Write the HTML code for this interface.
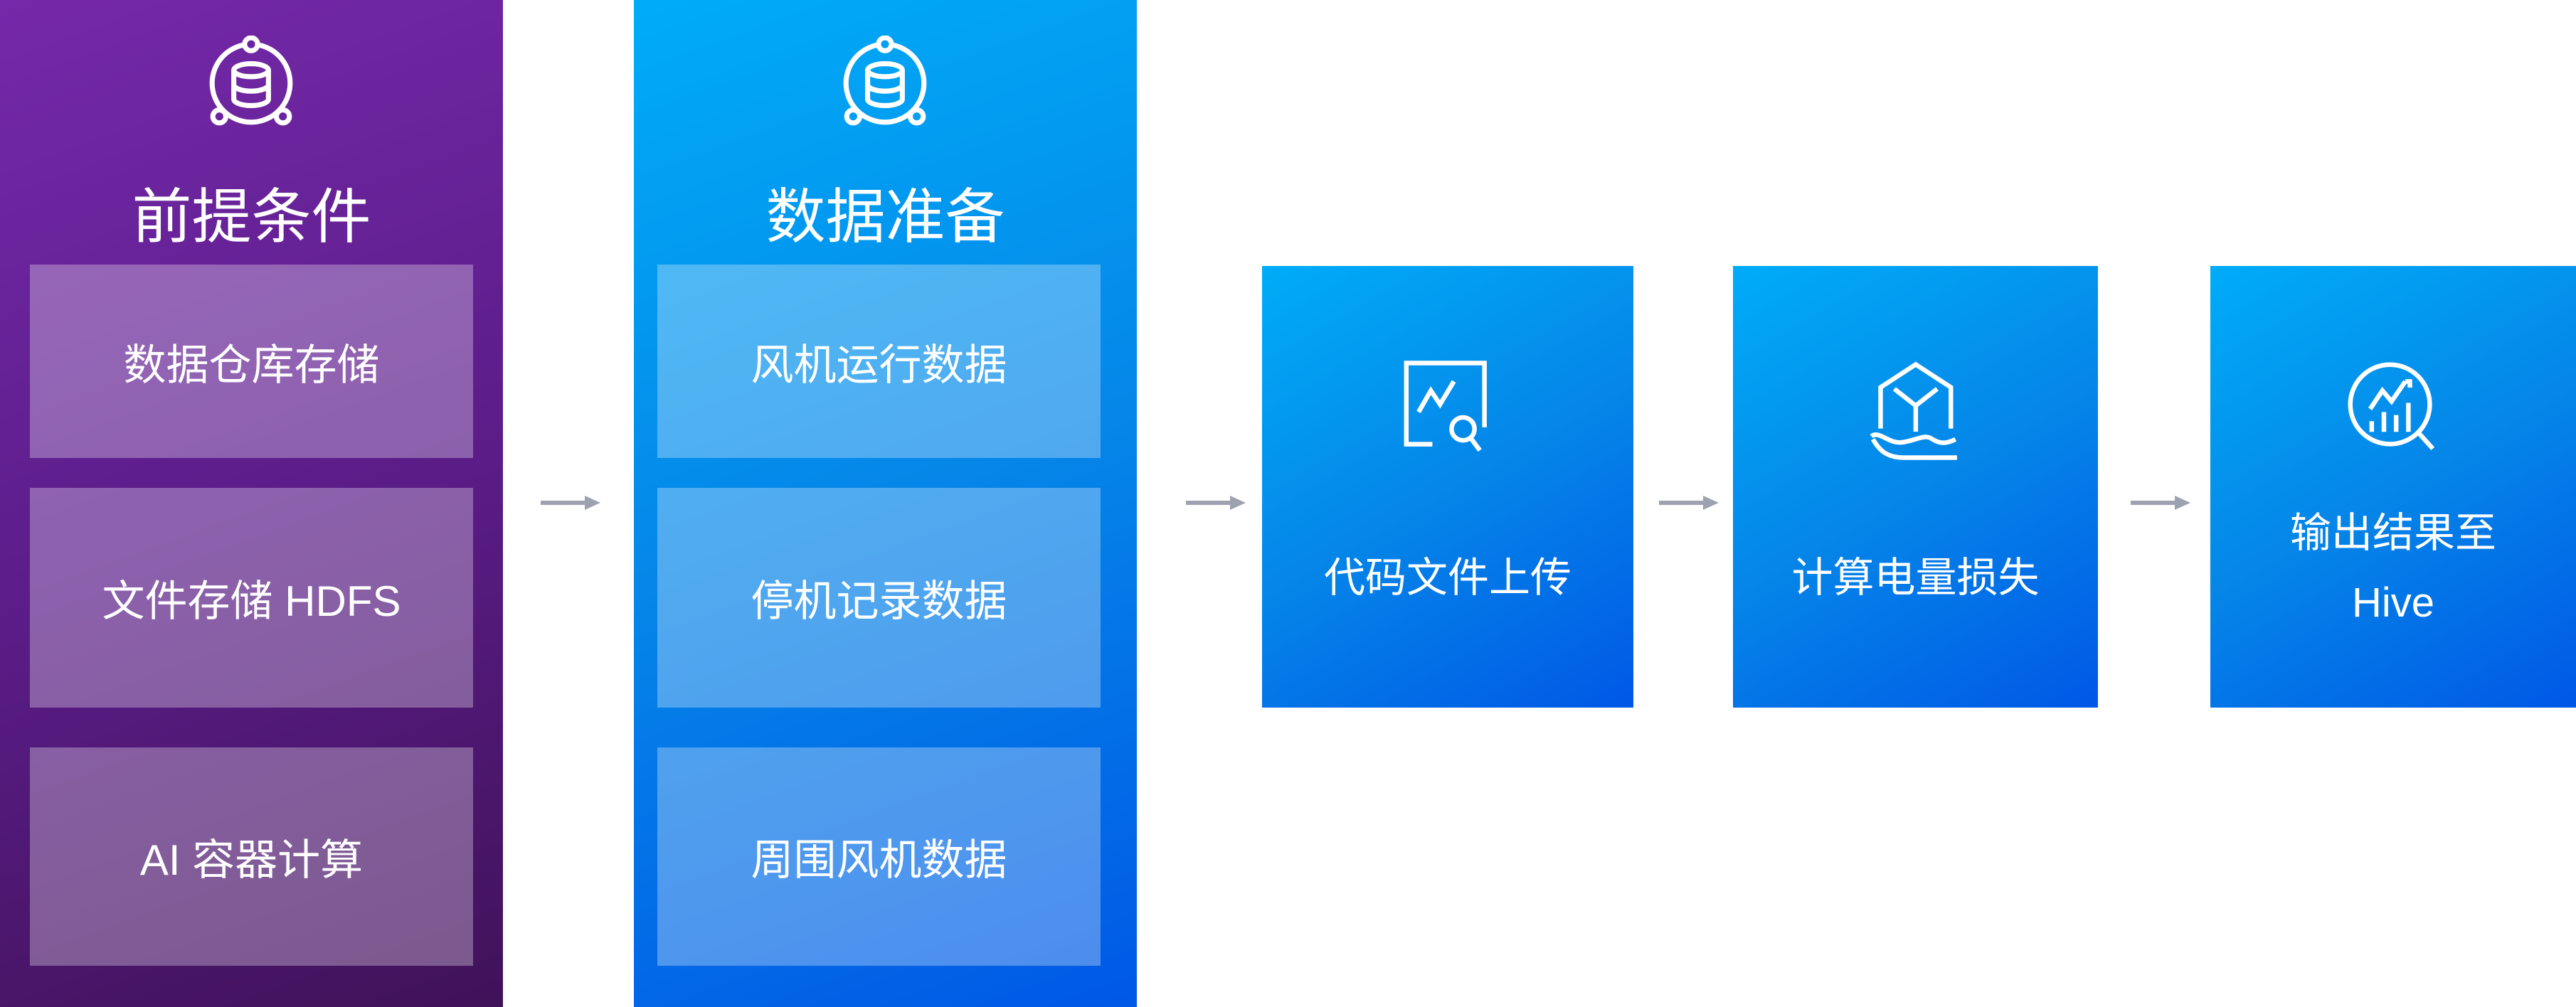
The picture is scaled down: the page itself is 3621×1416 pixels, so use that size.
<!DOCTYPE html>
<html><head><meta charset="utf-8"><style>
*{margin:0;padding:0;box-sizing:border-box}
body{width:3621px;height:1416px;background:#fff;position:relative;overflow:hidden;font-family:"Liberation Sans","Noto Sans CJK SC",sans-serif;color:#fff}
.abs{position:absolute}
.purple{background:linear-gradient(160deg,#7529aa 0%,#5c1d8a 50%,#401259 100%)}
.blue{background:linear-gradient(160deg,#00acf8 0%,#0586e8 50%,#0058e6 100%)}
.inner{position:absolute;display:flex;align-items:center;justify-content:center;font-size:60px;background:rgba(255,255,255,0.3)}
.title{position:absolute;width:100%;text-align:center;font-size:84px;top:238px}
.box{position:absolute;top:374px;height:621px;background:linear-gradient(150deg,#00acf8 0%,#0586e8 50%,#0058e6 100%)}
.btxt{position:absolute;width:100%;text-align:center;font-size:58px;line-height:98px}
.arrow{position:absolute;top:697px;width:84px;height:20px}
svg.ic{position:absolute}
</style></head><body>
<div class="abs purple" style="left:0;top:0;width:707px;height:1416px">
 <svg class="ic" style="left:286px;top:50px" width="134" height="134" viewBox="0 0 132 132" fill="none" stroke="#fff" stroke-width="7">
  <circle cx="66" cy="66" r="54"/><circle cx="66" cy="12" r="9" fill="#6a24a0"/><circle cx="22" cy="112" r="9" fill="#6a24a0"/><circle cx="110" cy="112" r="9" fill="#6a24a0"/>
  <ellipse cx="66" cy="48" rx="24" ry="9"/><path d="M42 48v40c0 5 11 9 24 9s24-4 24-9V48M42 68c0 5 11 9 24 9s24-4 24-9"/>
 </svg>
 <div class="title">前提条件</div>
 <div class="inner" style="left:42px;top:372px;width:623px;height:272px">数据仓库存储</div>
 <div class="inner" style="left:42px;top:686px;width:623px;height:309px">文件存储 HDFS</div>
 <div class="inner" style="left:42px;top:1051px;width:623px;height:307px">AI 容器计算</div>
</div>
<div class="abs blue" style="left:891px;top:0;width:707px;height:1416px">
 <svg class="ic" style="left:286px;top:50px" width="134" height="134" viewBox="0 0 132 132" fill="none" stroke="#fff" stroke-width="7">
  <circle cx="66" cy="66" r="54"/><circle cx="66" cy="12" r="9" fill="#049ef2"/><circle cx="22" cy="112" r="9" fill="#049ef2"/><circle cx="110" cy="112" r="9" fill="#049ef2"/>
  <ellipse cx="66" cy="48" rx="24" ry="9"/><path d="M42 48v40c0 5 11 9 24 9s24-4 24-9V48M42 68c0 5 11 9 24 9s24-4 24-9"/>
 </svg>
 <div class="title">数据准备</div>
 <div class="inner" style="left:33px;top:372px;width:623px;height:272px">风机运行数据</div>
 <div class="inner" style="left:33px;top:686px;width:623px;height:309px">停机记录数据</div>
 <div class="inner" style="left:33px;top:1051px;width:623px;height:307px">周围风机数据</div>
</div>
<svg class="arrow" style="left:760px" viewBox="0 0 84 20"><path d="M0 10h66" stroke="#9ea1b0" stroke-width="6"/><path d="M62 0l22 10-22 10z" fill="#9ea1b0"/></svg>
<svg class="arrow" style="left:1667px" viewBox="0 0 84 20"><path d="M0 10h66" stroke="#9ea1b0" stroke-width="6"/><path d="M62 0l22 10-22 10z" fill="#9ea1b0"/></svg>
<svg class="arrow" style="left:2332px" viewBox="0 0 84 20"><path d="M0 10h66" stroke="#9ea1b0" stroke-width="6"/><path d="M62 0l22 10-22 10z" fill="#9ea1b0"/></svg>
<svg class="arrow" style="left:2995px" viewBox="0 0 84 20"><path d="M0 10h66" stroke="#9ea1b0" stroke-width="6"/><path d="M62 0l22 10-22 10z" fill="#9ea1b0"/></svg>

<div class="box" style="left:1774px;width:522px">
 <svg class="ic" style="left:196px;top:130px" width="130" height="140" viewBox="0 0 120 130" fill="none" stroke="#fff" stroke-width="6">
  <path d="M40 112H6V6h102v84"/><path d="M22 70l16-28 12 18 18-30"/><circle cx="80" cy="92" r="15"/><path d="M90 104l12 16"/>
 </svg>
 <div class="btxt" style="top:390px">代码文件上传</div>
</div>
<div class="box" style="left:2436px;width:513px">
 <svg class="ic" style="left:186px;top:132px" width="145" height="145" viewBox="0 0 135 135" fill="none" stroke="#fff" stroke-width="6">
  <path d="M20 90V36L66 6l46 30v54"/><path d="M38 38l28 22 28-22M66 60v34"/><path d="M8 100c10-8 22 10 40 8s30-12 40-4c10 6 18 6 30 0"/><path d="M10 104c8 14 18 24 40 24h70"/>
 </svg>
 <div class="btxt" style="top:390px">计算电量损失</div>
</div>
<div class="box" style="left:3107px;width:514px">
 <svg class="ic" style="left:186px;top:128px" width="145" height="145" viewBox="0 0 135 135" fill="none" stroke="#fff" stroke-width="6">
  <circle cx="62" cy="62" r="52"/><path d="M100 100l18 20"/><path d="M36 68l16-24 12 14 18-26M82 32h6v8"/><path d="M38 84v14M54 72v26M70 76v22M86 60v38"/>
 </svg>
 <div class="btxt" style="top:327px">输出结果至<br>Hive</div>
</div>
</body></html>
